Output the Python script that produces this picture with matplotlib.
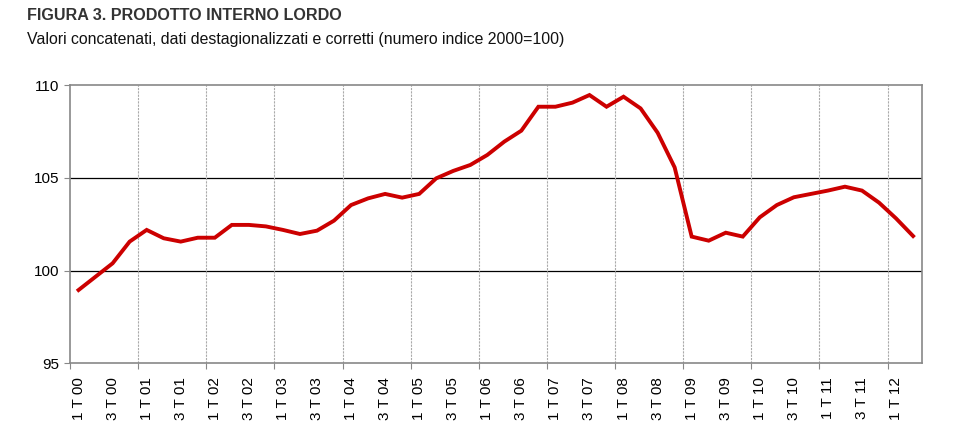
import matplotlib
matplotlib.use('Agg')
import numpy as np
import matplotlib.pyplot as plt
from matplotlib import font_manager

# PIL index 2000=100, quarterly 1T00 - 2T12
years = ['00','01','02','03','04','05','06','07','08','09','10','11','12']
pil = [98.95, 99.67, 100.39, 101.56,
       102.19, 101.74, 101.56, 101.77,
       101.77, 102.46, 102.46, 102.38,
       102.19, 101.97, 102.15, 102.69,
       103.53, 103.89, 104.13, 103.93,
       104.13, 104.97, 105.37, 105.69,
       106.23, 106.95, 107.54, 108.83,
       108.83, 109.05, 109.46, 108.83,
       109.37, 108.74, 107.43, 105.56,
       101.83, 101.61, 102.04, 101.83,
       102.87, 103.53, 103.95, 104.13,
       104.31, 104.52, 104.31, 103.66,
       102.81, 101.86]
yticks = [95, 100, 105, 110]

names = set(f.name for f in font_manager.fontManager.ttflist)
narrow = 'Liberation Sans Narrow' if 'Liberation Sans Narrow' in names else 'Liberation Sans'
plt.rcParams['font.family'] = [narrow, 'DejaVu Sans']

n = len(pil)
x = np.arange(n)
labels = []
for i in range(0, n, 2):
    labels.append('%d T %s' % (1 if i % 4 == 0 else 3, years[i // 4]))

fig = plt.figure(figsize=(9.58, 4.32), dpi=100)
ax = fig.add_axes([0.0731, 0.159, 0.8889, 0.6442])

ax.plot(x, pil, color='#cc0000', linewidth=2.8, solid_joinstyle='miter', zorder=3)

ax.set_xlim(-0.5, n - 0.5)
ax.set_ylim(95, 110)
ax.set_yticks(yticks)
ax.set_yticklabels([str(v) for v in yticks], fontsize=11)

for v in [100, 105]:
    ax.axhline(v, color='black', linewidth=0.9, zorder=1)
for b in np.arange(3.5, n - 1, 4):
    ax.axvline(b, color='#aaaaaa', linewidth=0.8, linestyle=(0, (2, 1)), zorder=1)

ax.set_xticks(np.arange(-0.5, n, 4))
ax.set_xticklabels([])
ax.set_xticks(x[::2], minor=True)
ax.set_xticklabels(labels, minor=True, rotation=90, fontsize=11)
ax.tick_params(axis='x', which='major', length=4, color='#888888')
ax.tick_params(axis='x', which='minor', length=0, pad=10)
ax.tick_params(axis='y', length=4, color='#888888', pad=4)

for s in ax.spines.values():
    s.set_color('#888888')
    s.set_linewidth(1.2)

fig.text(0.028, 0.965, 'FIGURA 3. PRODOTTO INTERNO LORDO', fontsize=11.6,
         fontweight='bold', color='#333333', va='center')
fig.text(0.028, 0.908, 'Valori concatenati, dati destagionalizzati e corretti (numero indice 2000=100)',
         fontsize=11.4, color='#111111', va='center')

plt.savefig('out.png', dpi=100)
